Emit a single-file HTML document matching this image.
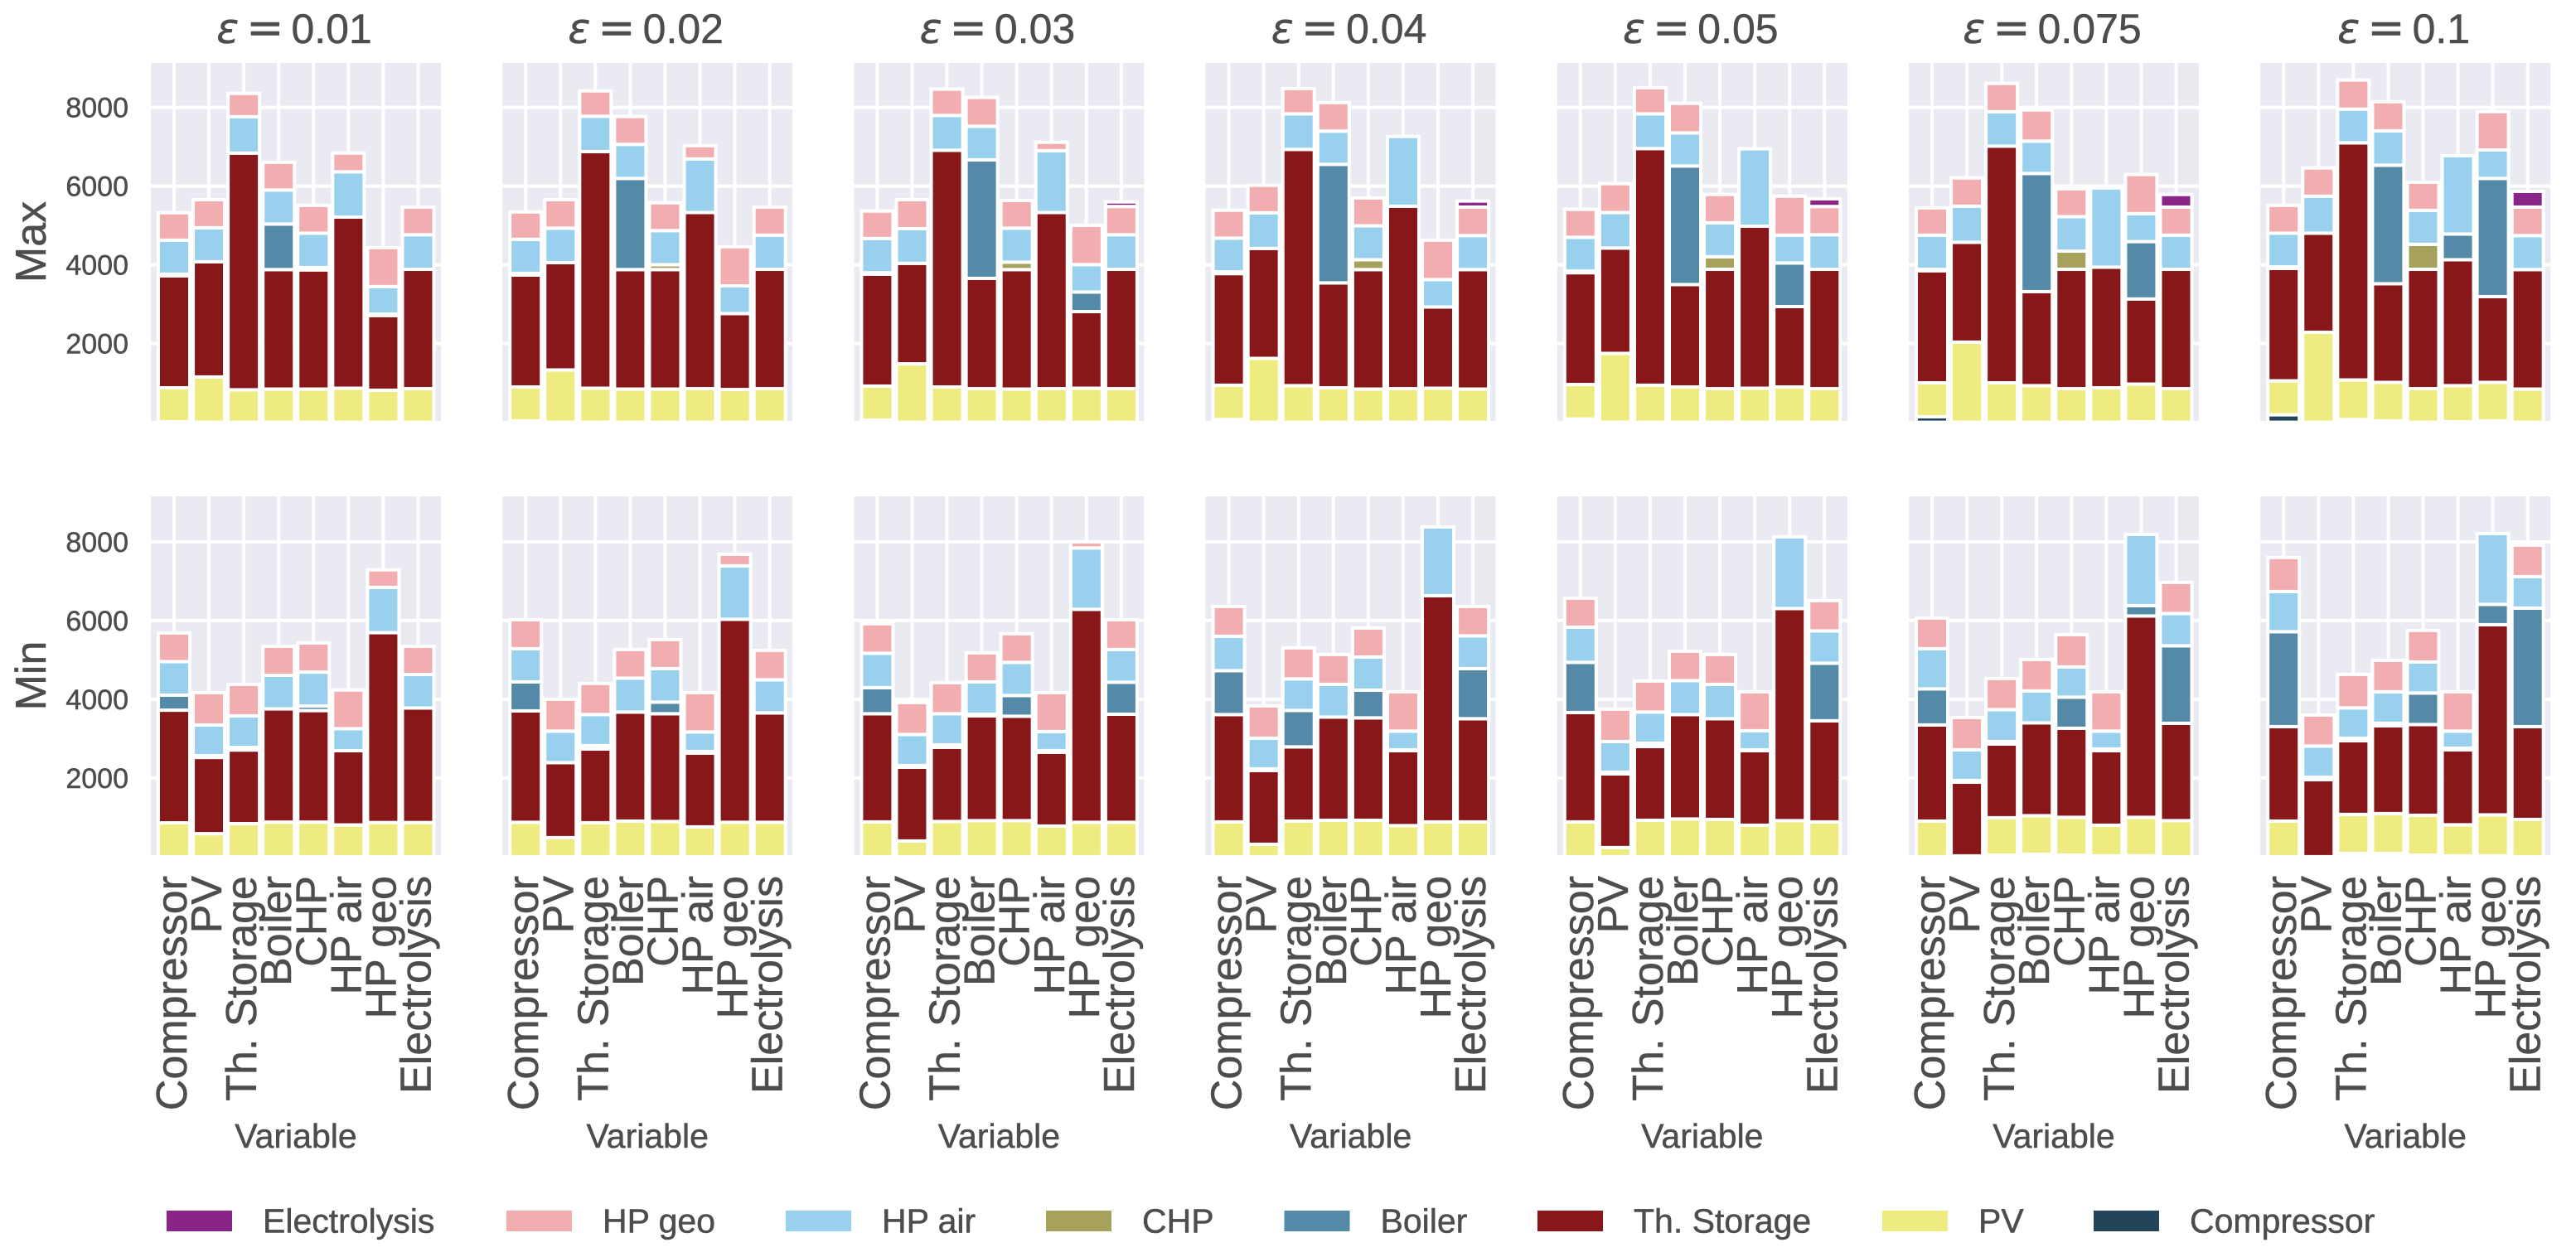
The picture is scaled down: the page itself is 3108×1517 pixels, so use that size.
<!DOCTYPE html>
<html lang="en">
<head>
<meta charset="utf-8">
<title>Stacked capacity bars by epsilon</title>
<style>
html,body{margin:0;padding:0;background:#fff;}
svg{display:block;}
text{font-family:"Liberation Sans",Arial,sans-serif;fill:#4d4d4f;stroke:#4d4d4f;stroke-width:0.5px;}
</style>
</head>
<body>
<svg id="chart" xmlns="http://www.w3.org/2000/svg" width="3108" height="1517" viewBox="0 0 3108 1517"></svg>
<script>
const categories = ['Compressor','PV','Th. Storage','Boiler','CHP','HP air','HP geo','Electrolysis'];
const epsilons = ['0.01','0.02','0.03','0.04','0.05','0.075','0.1'];
const yTickValues = [2000,4000,6000,8000];
const rowLabels = ['Max','Min'];
const xAxisTitle = 'Variable';
const seriesNames = ['Compressor','PV','Th. Storage','Boiler','CHP','HP air','HP geo','Electrolysis'];
const legendOrder = ['Electrolysis','HP geo','HP air','CHP','Boiler','Th. Storage','PV','Compressor'];

const maxCompressor = [
[12,0,0,0,0,0,0,0],[34,0,0,0,0,0,0,0],[56,0,0,0,0,0,0,0],[70,0,0,0,0,0,0,0],
[84,0,0,0,0,0,0,0],[139,0,0,0,0,0,12,0],[190,0,70,34,0,12,34,0]];
const maxPV = [
[864,1151,825,843,843,865,814,854],[863,1329,865,843,843,854,832,854],[863,1485,897,854,843,854,865,854],
[871,1623,930,876,843,854,865,843],[875,1750,941,897,854,865,897,854],[863,2036,1002,930,854,876,958,854],
[863,2286,1005,979,854,918,979,843]];
const maxThStorage = [
[2843,2927,6013,3036,3028,4348,1897,3032],[2844,2727,6013,3036,3036,4475,1930,3032],[2844,2553,6014,2803,3036,4475,1947,3032],
[2836,2793,6003,2665,3036,4635,2063,3036],[2840,2676,6013,2601,3032,4116,2042,3032],[2848,2536,6014,2390,3032,3064,2162,3032],
[2855,2518,6024,2507,3032,3199,2180,3036]];
const maxBoiler = [
[44,0,0,1157,59,0,36,0],[43,0,0,2317,0,0,0,0],[36,0,0,3011,0,0,497,0],[44,0,0,3011,0,0,0,0],
[43,0,0,3014,0,0,1107,0],[35,0,0,3000,0,0,1458,0],[43,0,0,3010,0,653,3003,0]];
const maxCHP = [
[0,0,0,0,0,0,0,0],[0,0,0,0,123,0,0,0],[0,0,0,0,188,0,0,0],[0,0,0,0,250,0,0,0],
[0,0,0,0,319,0,0,0],[0,0,0,0,464,0,0,0],[0,0,0,0,635,0,0,0]];
const maxHPair = [
[863,863,925,863,874,1150,700,878],[864,875,896,864,867,1361,703,867],[870,882,885,852,864,1571,697,878],
[856,906,903,845,863,1770,697,863],[856,903,882,841,863,1966,707,878],[868,917,874,823,874,2013,711,867],
[853,939,857,874,863,1991,722,863]];
const maxHPgeo = [
[696,715,592,707,707,475,990,703],[696,725,646,707,707,337,994,714],[697,736,667,733,703,214,997,718],
[711,697,642,725,707,0,1001,725],[711,733,664,748,719,0,990,718],[693,718,718,791,708,0,993,714],
[707,718,739,740,714,0,972,725]];
const maxElectrolysis = [
[0,0,0,0,0,0,0,0],[0,0,0,0,0,0,0,0],[0,0,0,0,0,0,0,116],[0,0,0,0,0,0,0,153],
[0,0,0,0,0,0,0,196],[0,0,0,0,0,0,0,320],[0,0,0,0,0,0,0,399]];

const minCompressor = [
[0,0,0,0,0,0,0,0],[0,0,0,0,0,0,0,0],[0,0,0,0,0,0,0,0],[0,0,0,0,0,0,0,0],
[0,0,0,0,0,0,0,0],[0,0,42,63,42,21,21,0],[0,0,80,80,42,21,21,0]];
const minPV = [
[861,585,839,879,879,807,868,868],[874,484,863,905,895,758,874,874],[884,400,895,916,916,779,874,874],
[884,316,905,926,926,790,884,884],[884,232,926,958,947,800,916,884],[905,21,948,979,958,779,979,916],
[905,0,994,1015,1011,790,1042,947]];
const minThStorage = [
[2862,1937,1872,2876,2833,1886,4824,2909],[2831,1906,1874,2769,2737,1874,5158,2779],[2748,1874,1884,2663,2653,1874,5411,2747],
[2727,1874,1885,2622,2601,1905,5748,2622],[2779,1873,1874,2653,2559,1895,5390,2569],[2443,1874,1873,2358,2263,1895,5116,2474],
[2400,1958,1874,2232,2305,1905,4832,2358]];
const minBoiler = [
[381,44,65,0,116,0,0,0],[737,0,84,0,295,42,0,0],[663,42,63,42,526,42,0,811],[1116,42,926,0,705,21,0,1273],
[1274,43,84,0,0,21,0,1463],[915,42,63,0,790,42,263,1968],[2411,63,63,63,800,42,516,3011]];
const minCHP = [
[0,0,0,0,0,0,0,0],[0,0,0,0,0,0,0,0],[0,0,0,0,0,0,0,0],[0,0,0,0,0,0,0,0],
[0,0,0,0,0,0,0,0],[0,0,0,0,0,0,0,0],[0,0,0,0,0,0,0,0]];
const minHPair = [
[852,780,802,853,863,558,1150,853],[843,800,790,863,852,495,1358,842],[874,789,790,821,842,484,1558,832],
[873,779,800,831,842,474,1747,832],[895,778,790,863,873,484,1821,821],[1022,779,811,811,768,453,1811,821],
[1021,790,768,800,790,432,1800,800]];
const minHPgeo = [
[729,823,801,736,740,983,446,714],[736,810,789,727,737,1000,295,747],[747,811,789,737,727,990,158,757],
[758,821,790,758,737,1000,0,747],[737,822,789,747,758,990,0,769],[779,821,790,800,821,1000,0,790],
[863,789,853,800,800,1000,0,800]];
const minElectrolysis = [
[0,0,0,0,0,0,0,0],[0,0,0,0,0,0,0,0],[0,0,0,0,0,0,0,0],[0,0,0,0,0,0,0,0],
[0,0,0,0,0,0,0,0],[0,0,0,0,0,0,0,0],[0,0,0,0,0,0,0,0]];

const rowSeries = [
  [maxCompressor,maxPV,maxThStorage,maxBoiler,maxCHP,maxHPair,maxHPgeo,maxElectrolysis],
  [minCompressor,minPV,minThStorage,minBoiler,minCHP,minHPair,minHPgeo,minElectrolysis]
];

const seriesColors = {'Compressor':'#224559','PV':'#eeeb80','Th. Storage':'#881719','Boiler':'#5489a7','CHP':'#a6a25e','HP air':'#98d0ee','HP geo':'#f2adb1','Electrolysis':'#882586'};

const NS = 'http://www.w3.org/2000/svg';
const svg = document.getElementById('chart');
const PANEL_LEFT = 182, PANEL_STEP = 424.2, PANEL_W = 350;
const ROW_TOP = [76, 599], ROW_BOTTOM = [508, 1032], ROW_ZERO = [509.6, 1033.9];
const PX_PER_UNIT = 0.0475, BAR_OFFSET = 28, BAR_STEP = 42.07, BAR_W = 38;

function panelX(p){ return PANEL_LEFT + PANEL_STEP * p; }
function xPos(p, i){ return panelX(p) + BAR_OFFSET + BAR_STEP * i; }
function yPos(r, v){ return ROW_ZERO[r] - v * PX_PER_UNIT; }
function mk(tag, attrs, parent){
  const el = document.createElementNS(NS, tag);
  for (const k in attrs) el.setAttribute(k, attrs[k]);
  (parent || svg).appendChild(el);
  return el;
}

const defs = mk('defs', {});

for (let r = 0; r < 2; r++) {
  for (let p = 0; p < epsilons.length; p++) {
    const g = mk('g', {});
    
    
    const left = panelX(p), top = ROW_TOP[r], h = ROW_BOTTOM[r] - ROW_TOP[r];
    const bg = mk('rect', {x:left, y:top, width:PANEL_W, height:h, fill:'#eaeaf2'}, g);
    
    
    const cp = mk('clipPath', {id:'clip-' + r + '-' + p}, defs);
    mk('rect', {x:left, y:top, width:PANEL_W, height:h}, cp);

    yTickValues.forEach(function(t){
      const line = mk('line', {x1:left, x2:left + PANEL_W, y1:yPos(r,t), y2:yPos(r,t), stroke:'#fff', 'stroke-width':4}, g);
      
      
    });
    categories.forEach(function(c, i){
      const line = mk('line', {x1:xPos(p,i), x2:xPos(p,i), y1:top, y2:top + h, stroke:'#fff', 'stroke-width':4}, g);
      
      
    });

    const bars = mk('g', {'clip-path':'url(#clip-' + r + '-' + p + ')'}, g);
    
    
    const stack = categories.map(function(){ return 0; });
    rowSeries[r].forEach(function(series, s){
      const name = seriesNames[s];
      series[p].forEach(function(v, i){
        const base = stack[i];
        stack[i] = base + v;
        if (v <= 0) return;
        const rect = mk('rect', {
          x: xPos(p,i) - BAR_W / 2,
          y: yPos(r, base + v),
          width: BAR_W,
          height: v * PX_PER_UNIT,
          fill: seriesColors[name],
          stroke: '#fff',
          'stroke-width': 4
        }, bars);
        
        
      });
    });

    if (r === 0) {
      const title = mk('text', {x:left + 173, y:52, 'text-anchor':'middle', 'font-size':50, style:'white-space:pre'}, svg);
      
      
      const e = mk('tspan', {style:'font-family:\'DejaVu Sans\',sans-serif;font-style:italic'}, title);
      e.textContent = 'ε';
      const eq = mk('tspan', {dx:9, 'font-size':54, style:'font-family:\'DejaVu Sans\',sans-serif'}, title);
      eq.textContent = '=';
      const val = mk('tspan', {dx:9}, title);
      val.textContent = epsilons[p];
    } else {
      categories.forEach(function(c, i){
        const bx = xPos(p,i) + 15;
        const t = mk('text', {x:bx, y:1057, 'text-anchor':'end', 'font-size':52, transform:'rotate(-90 ' + bx + ' 1057)'}, svg);
        
        
        t.textContent = c;
      });
      const vt = mk('text', {x:left + 175, y:1385, 'text-anchor':'middle', 'font-size':41}, svg);
      
      
      vt.textContent = xAxisTitle;
    }
  }

  yTickValues.forEach(function(t){
    const tl = mk('text', {x:155, y:yPos(r,t) + 12, 'text-anchor':'end', 'font-size':34}, svg);
    
    
    tl.textContent = String(t);
  });
  const cy = (ROW_TOP[r] + ROW_BOTTOM[r]) / 2;
  const rl = mk('text', {x:55, y:cy, 'text-anchor':'middle', 'font-size':52, transform:'rotate(-90 55 ' + cy + ')'}, svg);
  
  
  rl.textContent = rowLabels[r];
}

const legendPatchLeft = {'Electrolysis':201,'HP geo':611,'HP air':948,'CHP':1262,'Boiler':1549.5,'Th. Storage':1855,'PV':2271,'Compressor':2526};
const legend = mk('g', {});


legendOrder.forEach(function(name){
  const lx = legendPatchLeft[name];
  const patch = mk('rect', {x:lx, y:1461, width:79, height:25, fill:seriesColors[name]}, legend);
  
  
  const lab = mk('text', {x:lx + 116, y:1487.5, 'font-size':41}, legend);
  
  
  lab.textContent = name;
});
</script>
</body>
</html>
